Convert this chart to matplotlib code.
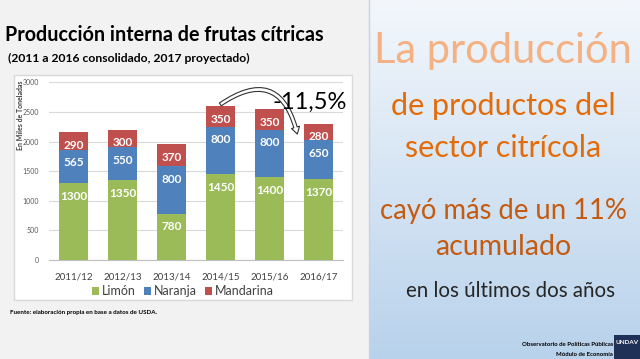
import numpy as np
import matplotlib.pyplot as plt
from matplotlib.patches import Rectangle
from matplotlib.colors import LinearSegmentedColormap

plt.rcParams['font.family'] = ['Lato', 'DejaVu Sans']

# datos (miles de toneladas)
years = ['2011/12', '2012/13', '2013/14', '2014/15', '2015/16', '2016/17']
limon = [1300, 1350, 780, 1450, 1400, 1370]
naranja = [565, 550, 800, 800, 800, 650]
mandarina = [290, 300, 370, 350, 350, 280]
series_names = ['Limón', 'Naranja', 'Mandarina']
colors = ['#9bbb59', '#4f81bd', '#c0504d']

W, H = 640, 359


def fx(px):
    return px / W


def fy(py):
    return 1 - py / H


fig = plt.figure(figsize=(6.4, 3.59), dpi=100, facecolor='#f2f2f2')

# title block
fig.text(fx(5), fy(41), 'Producción interna de frutas cítricas', fontsize=14.2,
         fontweight='bold', color='#000000', va='baseline')
fig.text(fx(8), fy(62), '(2011 a 2016 consolidado, 2017 proyectado)', fontsize=8.7,
         fontweight='bold', color='#000000', va='baseline')

# chart box
box = Rectangle((fx(14), fy(300)), (352 - 14) / W, (300 - 75) / H,
                transform=fig.transFigure, facecolor='white', edgecolor='#d9d9d9',
                linewidth=1, zorder=-5)
fig.add_artist(box)

ax = fig.add_axes([fx(49), fy(260), 294 / W, 177.7 / H])
ax.set_facecolor('none')
x = np.arange(len(years))
bottom = np.zeros(len(years))
bars = []
for vals, c in zip([limon, naranja, mandarina], colors):
    b = ax.bar(x, vals, width=0.6, bottom=bottom, color=c, zorder=3)
    bars.append(b)
    for i, v in enumerate(vals):
        ax.annotate(str(v), xy=(i, bottom[i] + v), xytext=(0, -9.5),
                    textcoords='offset points', ha='center', va='center',
                    color='white', fontsize=8.5, fontweight='bold', zorder=4)
    bottom = bottom + np.array(vals)

ax.set_xlim(-0.5, 5.5)
ax.set_ylim(0, 3000)
ax.set_yticks(range(0, 3001, 500))
ax.set_xticks(x)
ax.set_xticklabels(years)
ax.tick_params(axis='y', labelsize=5, colors='#595959', length=0, pad=7)
ax.tick_params(axis='x', labelsize=7, colors='#404040', length=0, pad=9)
ax.grid(axis='y', color='#d9d9d9', linewidth=0.8, zorder=0)
for s in ['top', 'right', 'left']:
    ax.spines[s].set_visible(False)
ax.spines['bottom'].set_color('#bfbfbf')

fig.text(fx(21), fy(80), 'En Miles de Toneladas', rotation=90, fontsize=5,
         fontweight='bold', color='#404040', ha='center', va='top')

leg = fig.legend(bars, series_names, loc='center', bbox_to_anchor=(fx(183), fy(291)),
                 ncol=3, frameon=False, fontsize=9, handlelength=0.6, handleheight=0.6,
                 handletextpad=0.25, columnspacing=0.6, labelcolor='#404040')

# flecha de caída
ax.annotate('', xy=(4.58, 2080), xytext=(2.95, 2600),
            arrowprops=dict(arrowstyle='simple,head_length=0.5,head_width=0.6,tail_width=0.25',
                            connectionstyle='arc3,rad=-0.75', facecolor='white',
                            edgecolor='#333333', linewidth=0.8),
            annotation_clip=False, zorder=6)
ax.text(4.82, 2670, '-11,5%', fontsize=17, color='#000000',
        ha='center', va='center', zorder=6, clip_on=False)

fig.text(fx(10), fy(314), 'Fuente: elaboración propia en base a datos de USDA.',
         fontsize=4.5, fontweight='bold', color='#000000', va='baseline')

# right panel with gradient
axp = fig.add_axes([fx(369), 0, 271 / W, 1])
cmap = LinearSegmentedColormap.from_list('panel', ['#f3f7fc', '#b8d2eb'])
grad = np.linspace(0, 1, 256).reshape(-1, 1)
axp.imshow(grad, aspect='auto', cmap=cmap, extent=[0, 1, 0, 1], origin='upper')
axp.set_xlim(0, 1)
axp.set_ylim(0, 1)
axp.axis('off')
fig.add_artist(plt.Line2D([fx(369), fx(369)], [0, 1], color='#c9d3de', linewidth=1))

cx = fx(503)
fig.text(cx, fy(63), 'La producción', fontsize=30, color='#f4b183',
         ha='center', va='baseline')
fig.text(cx, fy(115), 'de productos del', fontsize=22, color='#e36c0a',
         ha='center', va='baseline')
fig.text(cx, fy(157), 'sector citrícola', fontsize=22, color='#e36c0a',
         ha='center', va='baseline')
fig.text(cx, fy(219), 'cayó más de un 11%', fontsize=19.8, color='#c55a11',
         ha='center', va='baseline')
fig.text(cx, fy(255), 'acumulado', fontsize=20.5, color='#c55a11',
         ha='center', va='baseline')
fig.text(fx(510), fy(297), 'en los últimos dos años', fontsize=14.8, color='#262626',
         ha='center', va='baseline')

fig.text(fx(613), fy(346), 'Observatorio de Políticas Públicas', fontsize=4.3,
         fontweight='bold', color='#000000', ha='right', va='baseline')
fig.text(fx(613), fy(356), 'Módulo de Economía', fontsize=4.3,
         fontweight='bold', color='#000000', ha='right', va='baseline')

logo = Rectangle((fx(614), 0), 26 / W, (359 - 335) / H, transform=fig.transFigure,
                 facecolor='#1f3156', edgecolor='none')
fig.add_artist(logo)
fig.text(fx(627), fy(342), 'UNDAV', fontsize=4.5, fontweight='bold', color='white',
         ha='center', va='center')

fig.savefig('out.png', dpi=100, facecolor=fig.get_facecolor())
